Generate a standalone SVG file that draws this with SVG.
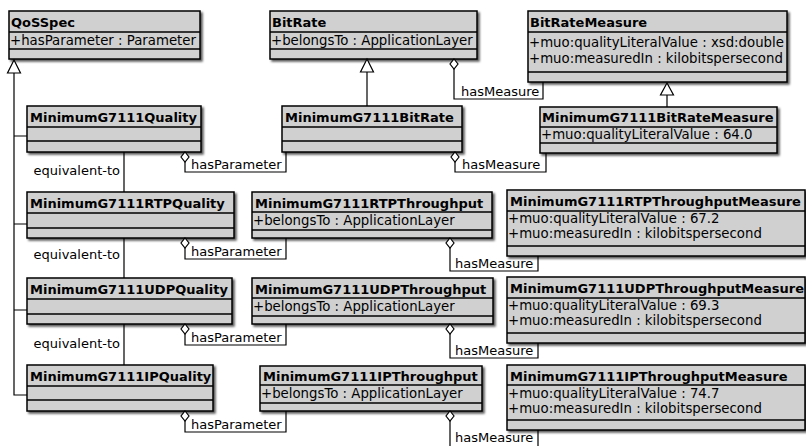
<svg xmlns="http://www.w3.org/2000/svg" width="806" height="446" viewBox="0 0 806 446">
  <style>
    .box { fill: #d0d0d0; stroke: #000; stroke-width: 1.5; filter: url(#shadow); }
    .sep { stroke: #000; stroke-width: 1.3; }
    .hd { font-family: "DejaVu Sans", sans-serif; font-size: 13px; font-weight: bold; fill: #000; }
    .at { font-family: "DejaVu Sans", sans-serif; font-size: 13.3px; fill: #000; }
    .lb { font-family: "DejaVu Sans", sans-serif; font-size: 13px; fill: #000; }
    .edge { fill: none; stroke: #000; stroke-width: 1.2; }
    .head { fill: #fff; stroke: #000; stroke-width: 1.2; }
  </style>
  <defs>
    <filter id="shadow" x="-5%" y="-10%" width="115%" height="130%">
      <feDropShadow dx="2" dy="2" stdDeviation="1.2" flood-color="#000" flood-opacity="0.65"/>
    </filter>
  </defs>
  <rect width="806" height="446" fill="#fff"/>

  <!-- classes -->
  <g id="QoSSpec">
    <rect class="box" x="9" y="11" width="191" height="48"/>
    <line class="sep" x1="9" y1="32" x2="200" y2="32"/>
    <line class="sep" x1="9" y1="49" x2="200" y2="49"/>
    <text class="hd" x="11" y="27">QoSSpec</text>
    <text class="at" x="10" y="45">+hasParameter : Parameter</text>
  </g>
  <g id="BitRate">
    <rect class="box" x="270" y="11" width="207" height="48"/>
    <line class="sep" x1="270" y1="32" x2="477" y2="32"/>
    <line class="sep" x1="270" y1="49" x2="477" y2="49"/>
    <text class="hd" x="272" y="27">BitRate</text>
    <text class="at" x="271" y="45">+belongsTo : ApplicationLayer</text>
  </g>
  <g id="BitRateMeasure">
    <rect class="box" x="528" y="11" width="259" height="71"/>
    <line class="sep" x1="528" y1="32" x2="787" y2="32"/>
    <line class="sep" x1="528" y1="72" x2="787" y2="72"/>
    <text class="hd" x="530" y="27">BitRateMeasure</text>
    <text class="at" x="529" y="47">+muo:qualityLiteralValue : xsd:double</text>
    <text class="at" x="529" y="63">+muo:measuredIn : kilobitspersecond</text>
  </g>
  <g id="MinimumG7111Quality">
    <rect class="box" x="27" y="106" width="174" height="46"/>
    <line class="sep" x1="27" y1="127" x2="201" y2="127"/>
    <line class="sep" x1="27" y1="141" x2="201" y2="141"/>
    <text class="hd" x="30" y="122">MinimumG7111Quality</text>
  </g>
  <g id="MinimumG7111BitRate">
    <rect class="box" x="282" y="106" width="180" height="46"/>
    <line class="sep" x1="282" y1="127" x2="462" y2="127"/>
    <line class="sep" x1="282" y1="141" x2="462" y2="141"/>
    <text class="hd" x="285" y="122">MinimumG7111BitRate</text>
  </g>
  <g id="MinimumG7111BitRateMeasure">
    <rect class="box" x="540" y="107" width="237" height="46"/>
    <line class="sep" x1="540" y1="127" x2="777" y2="127"/>
    <line class="sep" x1="540" y1="143" x2="777" y2="143"/>
    <text class="hd" x="542" y="122">MinimumG7111BitRateMeasure</text>
    <text class="at" x="541" y="139">+muo:qualityLiteralValue : 64.0</text>
  </g>
  <g id="MinimumG7111RTPQuality">
    <rect class="box" x="27" y="192" width="207" height="46"/>
    <line class="sep" x1="27" y1="213" x2="234" y2="213"/>
    <line class="sep" x1="27" y1="228" x2="234" y2="228"/>
    <text class="hd" x="30" y="208">MinimumG7111RTPQuality</text>
  </g>
  <g id="MinimumG7111RTPThroughput">
    <rect class="box" x="252" y="192" width="240" height="46"/>
    <line class="sep" x1="252" y1="212" x2="492" y2="212"/>
    <line class="sep" x1="252" y1="230" x2="492" y2="230"/>
    <text class="hd" x="255" y="208">MinimumG7111RTPThroughput</text>
    <text class="at" x="253" y="225">+belongsTo : ApplicationLayer</text>
  </g>
  <g id="MinimumG7111RTPThroughputMeasure">
    <rect class="box" x="507" y="190" width="298" height="66"/>
    <line class="sep" x1="507" y1="211" x2="805" y2="211"/>
    <line class="sep" x1="507" y1="246" x2="805" y2="246"/>
    <text class="hd" x="510" y="206">MinimumG7111RTPThroughputMeasure</text>
    <text class="at" x="508" y="223">+muo:qualityLiteralValue : 67.2</text>
    <text class="at" x="508" y="238">+muo:measuredIn : kilobitspersecond</text>
  </g>
  <g id="MinimumG7111UDPQuality">
    <rect class="box" x="27" y="278" width="205" height="46"/>
    <line class="sep" x1="27" y1="299" x2="232" y2="299"/>
    <line class="sep" x1="27" y1="314" x2="232" y2="314"/>
    <text class="hd" x="30" y="294">MinimumG7111UDPQuality</text>
  </g>
  <g id="MinimumG7111UDPThroughput">
    <rect class="box" x="252" y="278" width="241" height="46"/>
    <line class="sep" x1="252" y1="298" x2="493" y2="298"/>
    <line class="sep" x1="252" y1="316" x2="493" y2="316"/>
    <text class="hd" x="255" y="294">MinimumG7111UDPThroughput</text>
    <text class="at" x="253" y="311">+belongsTo : ApplicationLayer</text>
  </g>
  <g id="MinimumG7111UDPThroughputMeasure">
    <rect class="box" x="507" y="277" width="298" height="66"/>
    <line class="sep" x1="507" y1="298" x2="805" y2="298"/>
    <line class="sep" x1="507" y1="333" x2="805" y2="333"/>
    <text class="hd" x="510" y="293">MinimumG7111UDPThroughputMeasure</text>
    <text class="at" x="508" y="310">+muo:qualityLiteralValue : 69.3</text>
    <text class="at" x="508" y="325">+muo:measuredIn : kilobitspersecond</text>
  </g>
  <g id="MinimumG7111IPQuality">
    <rect class="box" x="27" y="365" width="186" height="46"/>
    <line class="sep" x1="27" y1="386" x2="213" y2="386"/>
    <line class="sep" x1="27" y1="400" x2="213" y2="400"/>
    <text class="hd" x="30" y="381">MinimumG7111IPQuality</text>
  </g>
  <g id="MinimumG7111IPThroughput">
    <rect class="box" x="260" y="366" width="222" height="45"/>
    <line class="sep" x1="260" y1="385" x2="482" y2="385"/>
    <line class="sep" x1="260" y1="403" x2="482" y2="403"/>
    <text class="hd" x="263" y="381">MinimumG7111IPThroughput</text>
    <text class="at" x="261" y="398">+belongsTo : ApplicationLayer</text>
  </g>
  <g id="MinimumG7111IPThroughputMeasure">
    <rect class="box" x="507" y="365" width="298" height="65"/>
    <line class="sep" x1="507" y1="385" x2="805" y2="385"/>
    <line class="sep" x1="507" y1="420" x2="805" y2="420"/>
    <text class="hd" x="510" y="381">MinimumG7111IPThroughputMeasure</text>
    <text class="at" x="508" y="398">+muo:qualityLiteralValue : 74.7</text>
    <text class="at" x="508" y="413">+muo:measuredIn : kilobitspersecond</text>
  </g>

  <!-- connectors -->
  <g id="connectors">
    <!-- generalizations -->
    <path class="edge" d="M14 73 V395 H27 M14 136 H27 M14 224 H27 M14 310 H27"/>
    <polygon class="head" points="14,60 20.5,73 7.5,73"/>
    <path class="edge" d="M367 72 V106"/>
    <polygon class="head" points="367,59 373.5,72 360.5,72"/>
    <path class="edge" d="M667 95 V107"/>
    <polygon class="head" points="667,83 673.5,95 660.5,95"/>

    <!-- equivalent-to -->
    <path class="edge" d="M124 152 V192 M124 238 V278 M124 324 V365"/>
    <text class="lb" x="120" y="175" text-anchor="end">equivalent-to</text>
    <text class="lb" x="120" y="259" text-anchor="end">equivalent-to</text>
    <text class="lb" x="120" y="348" text-anchor="end">equivalent-to</text>

    <!-- hasParameter aggregations -->
    <path class="edge" d="M185 162 V172 H286 V152"/>
    <polygon class="head" points="185,152 189,157 185,162 181,157"/>
    <text class="lb" x="191" y="169">hasParameter</text>
    <path class="edge" d="M185 248 V259 H286 V238"/>
    <polygon class="head" points="185,238 189,243 185,248 181,243"/>
    <text class="lb" x="191" y="256">hasParameter</text>
    <path class="edge" d="M185 334 V345 H286 V324"/>
    <polygon class="head" points="185,324 189,329 185,334 181,329"/>
    <text class="lb" x="191" y="342">hasParameter</text>
    <path class="edge" d="M185 421 V432 H286 V411"/>
    <polygon class="head" points="185,411 189,416 185,421 181,416"/>
    <text class="lb" x="191" y="429">hasParameter</text>

    <!-- hasMeasure aggregations -->
    <path class="edge" d="M454 69 V99 H543 V82"/>
    <polygon class="head" points="454,59 458,64 454,69 450,64"/>
    <text class="lb" x="461" y="96">hasMeasure</text>
    <path class="edge" d="M455 162 V172 H546 V153"/>
    <polygon class="head" points="455,152 459,157 455,162 451,157"/>
    <text class="lb" x="462" y="169">hasMeasure</text>
    <path class="edge" d="M450 248 V271 H538 V256"/>
    <polygon class="head" points="450,238 454,243 450,248 446,243"/>
    <text class="lb" x="455" y="268">hasMeasure</text>
    <path class="edge" d="M450 334 V358 H538 V343"/>
    <polygon class="head" points="450,324 454,329 450,334 446,329"/>
    <text class="lb" x="455" y="355">hasMeasure</text>
    <path class="edge" d="M450 421 V447 H538 V430"/>
    <polygon class="head" points="450,411 454,416 450,421 446,416"/>
    <text class="lb" x="455" y="442">hasMeasure</text>
  </g>
</svg>
